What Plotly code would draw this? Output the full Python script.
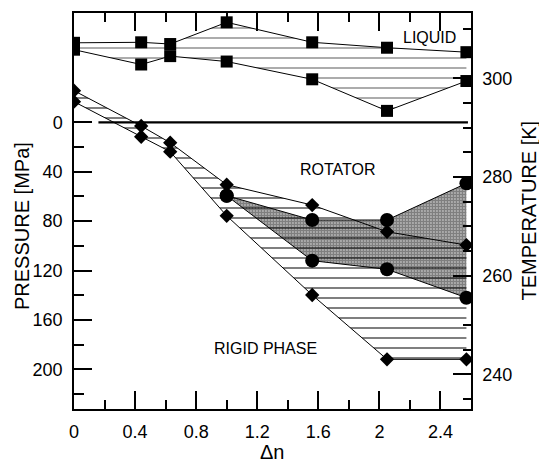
import plotly.graph_objects as go

# ---------------- data ----------------
dn = [0, 0.44, 0.63, 1.0, 1.56, 2.05, 2.57]

# liquid / rotator boundaries (temperature axis, K)
liquid_top_T = [307.2, 307.3, 306.95, 311.35, 307.3, 306.2, 305.3]
liquid_bot_T = [305.8, 302.8, 304.5, 303.4, 299.8, 293.4, 299.45]

# rotator / rigid boundaries (pressure axis, MPa)
rot_upper_P = [-25.6, 3.0, 16.5, 50.5, 67.0, 88.6, 99.4]
rigid_P = [-16.7, 11.7, 23.8, 75.7, 139.8, 191.9, 191.9]

circ_dn = [1.0, 1.56, 2.05, 2.57]
circ_upper_P = [59.4, 79.1, 79.1, 49.4]
circ_lower_P = [59.4, 112.0, 119.0, 142.0]

zero_dn = [0.16, 2.58]
zero_P = [0, 0]

x_ticks = [0, 0.4, 0.8, 1.2, 1.6, 2.0, 2.4]
x_ticktext = ["0", "0.4", "0.8", "1.2", "1.6", "2", "2.4"]
x_minor = [0.2, 0.6, 1.0, 1.4, 1.8, 2.2]
p_ticks = [0, 40, 80, 120, 160, 200]
p_minor = [20, 60, 100, 140, 180, 220]
t_ticks = [240, 260, 280, 300]
t_minor = [235, 245, 250, 255, 265, 270, 275, 285, 290, 295, 305, 310]

FONT = "Liberation Sans, Arial, sans-serif"

fig = go.Figure()

# hatched liquid-rotator coexistence region
fig.add_trace(go.Scatter(
    x=dn + dn[::-1], y=liquid_top_T + liquid_bot_T[::-1], yaxis="y2",
    mode="none", fill="toself", fillcolor="rgba(0,0,0,0)",
    fillpattern=dict(shape="-", size=10, solidity=0.15, fgcolor="#222",
                     bgcolor="rgba(0,0,0,0)"),
    hoverinfo="skip", showlegend=False))

# hatched rotator-rigid region
fig.add_trace(go.Scatter(
    x=dn + dn[::-1], y=rot_upper_P + rigid_P[::-1],
    mode="none", fill="toself", fillcolor="rgba(0,0,0,0)",
    fillpattern=dict(shape="-", size=10, solidity=0.2, fgcolor="black",
                     bgcolor="rgba(0,0,0,0)"),
    hoverinfo="skip", showlegend=False))

# stippled region
fig.add_trace(go.Scatter(
    x=circ_dn + circ_dn[::-1], y=circ_upper_P + circ_lower_P[::-1],
    mode="none", fill="toself", fillcolor="rgba(0,0,0,0)",
    fillpattern=dict(shape=".", size=3, solidity=0.8, fgcolor="black",
                     bgcolor="rgba(0,0,0,0)"),
    hoverinfo="skip", showlegend=False))

# zero-pressure line
fig.add_trace(go.Scatter(x=zero_dn, y=zero_P, mode="lines",
                         line=dict(color="black", width=2.2), showlegend=False))

# square series (temperature)
for ys in (liquid_top_T, liquid_bot_T):
    fig.add_trace(go.Scatter(
        x=dn, y=ys, yaxis="y2", mode="lines+markers",
        line=dict(color="black", width=1),
        marker=dict(symbol="square", size=12, color="black"),
        showlegend=False))

# diamond series (pressure)
for ys in (rot_upper_P, rigid_P):
    fig.add_trace(go.Scatter(
        x=dn, y=ys, mode="lines+markers",
        line=dict(color="black", width=1),
        marker=dict(symbol="diamond", size=11, color="black"),
        showlegend=False))

# circle series
for ys in (circ_upper_P, circ_lower_P):
    fig.add_trace(go.Scatter(
        x=circ_dn, y=ys, mode="lines+markers",
        line=dict(color="black", width=1),
        marker=dict(symbol="circle", size=14, color="black"),
        showlegend=False))

axis_common = dict(showgrid=False, zeroline=False, showline=True,
                   linecolor="black", linewidth=1.5, ticks="inside",
                   tickcolor="black", tickwidth=1.5, ticklen=18,
                   tickfont=dict(family=FONT, size=18, color="black"))

fig.update_layout(
    width=539, height=463,
    margin=dict(l=74, r=68, t=13, b=54),
    paper_bgcolor="white", plot_bgcolor="white",
    font=dict(family=FONT, color="black"),
    xaxis=dict(range=[0, 2.6], tickvals=x_ticks, ticktext=x_ticktext,
               mirror="ticks", ticklabelstandoff=6,
               minor=dict(tickvals=x_minor, ticks="inside", ticklen=9,
                          tickwidth=1.5, tickcolor="black"),
               **axis_common),
    yaxis=dict(range=[232.1, -88.5], tickvals=p_ticks, ticklabelstandoff=6,
               minor=dict(tickvals=p_minor, ticks="inside", ticklen=10,
                          tickwidth=1.5, tickcolor="black"),
               **axis_common),
    yaxis2=dict(range=[232.97, 313.24], overlaying="y", side="right",
                tickvals=t_ticks, ticklabelstandoff=6,
                minor=dict(tickvals=t_minor, ticks="inside", ticklen=8,
                           tickwidth=1.5, tickcolor="black"),
                **axis_common),
    annotations=[
        dict(text="LIQUID", x=2.33, y=308.27, xref="x", yref="y2",
             showarrow=False, font=dict(family=FONT, size=16)),
        dict(text="ROTATOR", x=1.728, y=38.2, xref="x", yref="y",
             showarrow=False, font=dict(family=FONT, size=16)),
        dict(text="RIGID PHASE", x=1.257, y=183.3, xref="x", yref="y",
             showarrow=False, font=dict(family=FONT, size=16)),
        dict(text="PRESSURE [MPa]", x=22.5 / 539, y=1 - 225.5 / 463,
             xref="paper", yref="paper", textangle=-90, showarrow=False,
             xanchor="center", yanchor="middle",
             font=dict(family=FONT, size=20)),
        dict(text="TEMPERATURE [K]", x=528.5 / 539, y=1 - 211 / 463,
             xref="paper", yref="paper", textangle=-90, showarrow=False,
             xanchor="center", yanchor="middle",
             font=dict(family=FONT, size=20)),
        dict(text="Δn", x=272 / 539, y=1 - 452 / 463,
             xref="paper", yref="paper", showarrow=False,
             xanchor="center", yanchor="middle",
             font=dict(family=FONT, size=20)),
    ],
)

# annotations with paper refs need coordinates relative to plot area; convert
plot_l, plot_r, plot_t, plot_b = 74, 471, 13, 409
for ann in fig.layout.annotations:
    if ann.xref == "paper":
        px = ann.x * 539
        py = (1 - ann.y) * 463
        ann.x = (px - plot_l) / (plot_r - plot_l)
        ann.y = (plot_b - py) / (plot_b - plot_t)

fig.write_html("out.html")
